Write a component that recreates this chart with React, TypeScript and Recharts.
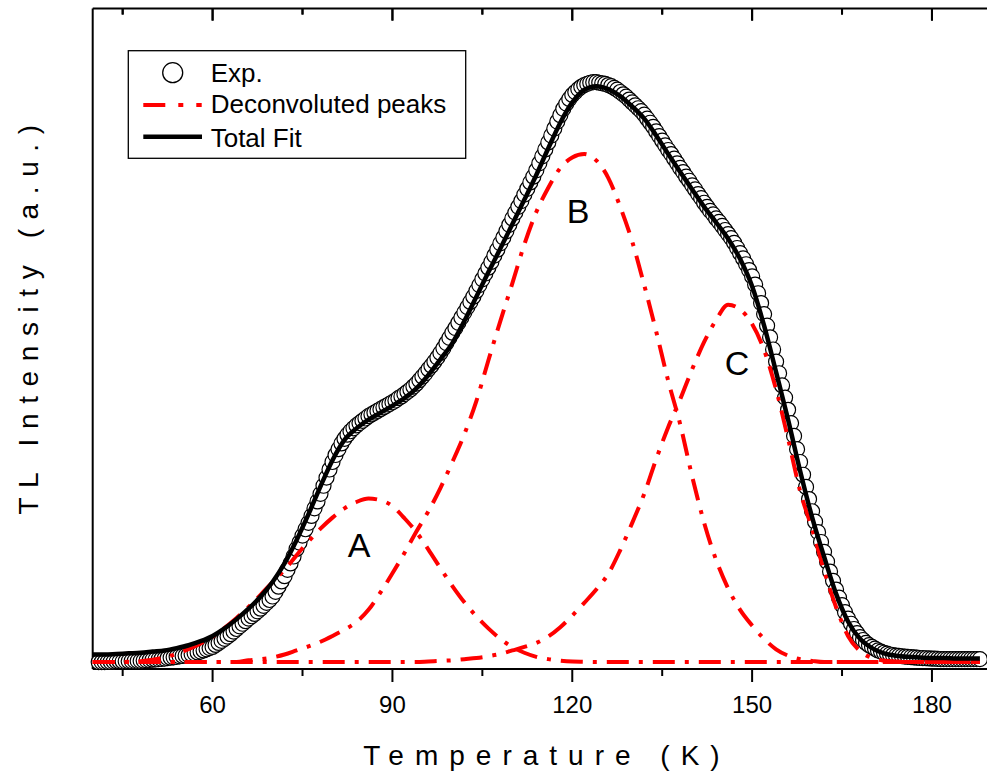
import React from 'react';
import { ComposedChart, Line, XAxis, YAxis, ReferenceLine } from 'recharts';

// Exp. points: first temperature and step in K
const expStart = 41;
const expStep = 0.5;
const expValues = [
  0.0, 0.0, 0.0, 0.02, 0.05, 0.07, 0.1, 0.1, 0.1, 0.12, 0.15, 0.18, 0.2, 0.2, 0.2, 0.25,
  0.3, 0.35, 0.4, 0.45, 0.5, 0.55, 0.6, 0.68, 0.75, 0.82, 0.9, 0.98, 1.05, 1.12, 1.2, 1.35,
  1.5, 1.65, 1.8, 2.0, 2.2, 2.4, 2.6, 2.95, 3.3, 3.65, 4.0, 4.4, 4.8, 5.25, 5.7, 6.15,
  6.6, 7.05, 7.5, 7.9, 8.3, 8.75, 9.2, 9.7, 10.2, 10.7, 11.3, 12.1, 13.0, 13.9, 14.8, 15.9,
  17.0, 18.2, 19.5, 20.6, 21.8, 22.9, 24.0, 25.2, 26.5, 27.7, 29.0, 30.4, 31.8, 33.2, 34.5, 35.7,
  36.7, 37.7, 38.5, 39.2, 39.8, 40.3, 40.8, 41.2, 41.6, 42.0, 42.4, 42.7, 43.0, 43.3, 43.6, 43.9,
  44.2, 44.5, 44.8, 45.1, 45.5, 45.8, 46.2, 46.6, 47.0, 47.5, 48.0, 48.6, 49.2, 49.8, 50.5, 51.1,
  51.8, 52.5, 53.3, 54.1, 55.0, 55.9, 56.8, 57.6, 58.5, 59.4, 60.3, 61.2, 62.1, 63.0, 64.0, 65.0,
  66.0, 67.0, 68.0, 69.0, 70.1, 71.1, 72.2, 73.2, 74.3, 75.4, 76.5, 77.5, 78.5, 79.5, 80.6, 81.6,
  82.7, 83.7, 84.8, 86.0, 87.2, 88.4, 89.6, 90.8, 92.0, 93.2, 94.3, 95.4, 96.3, 97.1, 97.8, 98.3,
  98.8, 99.2, 99.5, 99.7, 99.9, 100.0, 100.0, 99.9, 99.8, 99.7, 99.5, 99.3, 99.0, 98.7, 98.3, 97.9,
  97.5, 97.0, 96.5, 96.0, 95.5, 95.0, 94.4, 93.7, 93.0, 92.3, 91.5, 90.7, 89.9, 89.1, 88.3, 87.6,
  86.8, 86.0, 85.2, 84.5, 83.7, 83.0, 82.2, 81.5, 80.7, 80.0, 79.2, 78.5, 77.8, 77.2, 76.5, 75.9,
  75.2, 74.5, 73.8, 73.1, 72.3, 71.4, 70.5, 69.6, 68.6, 67.6, 66.5, 65.1, 63.6, 61.9, 60.0, 58.0,
  56.0, 53.9, 51.8, 49.8, 47.7, 45.6, 43.5, 41.2, 39.0, 36.7, 34.5, 32.3, 30.2, 28.1, 26.0, 24.2,
  22.4, 20.7, 19.0, 17.3, 15.6, 14.0, 12.5, 11.1, 9.8, 8.6, 7.5, 6.6, 5.7, 5.0, 4.3, 3.8,
  3.3, 2.9, 2.6, 2.3, 2.0, 1.8, 1.6, 1.45, 1.3, 1.2, 1.1, 1.05, 1.0, 0.95, 0.9, 0.85,
  0.8, 0.75, 0.7, 0.68, 0.65, 0.62, 0.6, 0.58, 0.55, 0.52, 0.5, 0.5, 0.5, 0.5, 0.5, 0.5,
  0.5, 0.5, 0.5, 0.5, 0.5, 0.5, 0.5,
];

// fitted curves sampled every 2 K from 40 to 188
const curveTemps = Array.from({ length: 75 }, (_, i) => 40 + 2 * i);

const peakA = [
  0, 0, 0, 0.05, 0.15, 0.4, 0.8, 1.4, 2.2, 3.2, 4.4, 5.9, 7.6, 9.5, 11.6, 13.8,
  15.9, 18.4, 20.8, 23.0, 24.9, 26.5, 27.6, 28.2, 27.9, 26.9, 24.8, 22.4, 19.4, 16.2, 13.1, 10.3,
  7.9, 5.8, 4.0, 2.6, 1.6, 0.9, 0.5, 0.25, 0.1, 0.05, 0, 0, 0, 0, 0, 0,
  0, 0, 0, 0, 0, 0, 0, 0, 0, 0, 0, 0, 0, 0, 0, 0,
  0, 0, 0, 0, 0, 0, 0, 0, 0, 0, 0,
];

const peakB = [
  0, 0, 0, 0, 0, 0, 0, 0, 0, 0, 0, 0, 0, 0.3, 0.5, 0.8,
  1.3, 2.0, 2.7, 3.5, 4.5, 5.6, 6.9, 9.0, 12.0, 15.3, 18.8, 22.5, 26.0, 30.0, 34.5, 39.3,
  45.0, 52.0, 58.8, 65.3, 72.0, 77.6, 81.8, 85.2, 87.0, 87.6, 86.5, 83.5, 78.5, 72.5, 65.0, 57.0,
  48.5, 41.0, 32.0, 24.0, 17.6, 12.7, 9.0, 6.3, 4.0, 2.2, 1.1, 0.5, 0.2, 0, 0, 0,
  0, 0, 0, 0, 0, 0, 0, 0, 0, 0, 0,
];

const peakC = [
  0, 0, 0, 0, 0, 0, 0, 0, 0, 0, 0, 0, 0, 0, 0, 0,
  0, 0, 0, 0, 0, 0, 0, 0, 0, 0, 0, 0, 0.1, 0.2, 0.3, 0.5,
  0.7, 1.0, 1.4, 2.0, 2.6, 3.3, 4.4, 6.0, 8.0, 10.2, 12.5, 15.2, 19.3, 24.0, 29.0, 35.0,
  40.5, 45.3, 50.5, 55.2, 59.0, 61.6, 60.8, 58.3, 53.8, 47.0, 38.5, 29.5, 23.0, 15.8, 9.5, 4.5,
  1.9, 0.7, 0.25, 0.1, 0, 0, 0, 0, 0, 0, 0,
];

const totalFit = [
  1.3, 1.3, 1.4, 1.5, 1.6, 1.8, 2.0, 2.4, 2.9, 3.6, 4.5, 5.8, 7.4, 9.2, 11.3, 13.8,
  17.0, 21.0, 25.5, 30.3, 34.8, 38.3, 40.3, 41.8, 43.0, 44.2, 45.5, 47.2, 49.5, 52.2, 55.0, 58.8,
  63.0, 67.2, 71.3, 75.5, 79.7, 84.0, 88.6, 93.0, 96.5, 98.7, 99.3, 98.8, 97.6, 95.8, 93.7, 90.8,
  87.6, 84.5, 81.5, 78.5, 75.8, 73.0, 69.5, 64.8, 58.0, 50.0, 41.8, 33.0, 25.0, 18.2, 11.8, 7.0,
  4.0, 2.4, 1.5, 1.1, 0.9, 0.8, 0.7, 0.7, 0.6, 0.6, 0.6,
];

const xTicks = [45, 60, 75, 90, 105, 120, 135, 150, 165, 180];

const expData = expValues.map((v, i) => ({ t: expStart + i * expStep, v }));
const curveData = curveTemps.map((t, i) => ({
  t,
  a: peakA[i],
  b: peakB[i],
  c: peakC[i],
  fit: totalFit[i],
}));

const FONT = 'Arial, "Liberation Sans", sans-serif';
const DASH = '22 10 4 10';
const CHART_W = 1000;
const CHART_H = 776;
const X_DOMAIN: [number, number] = [40, 190];
const Y_DOMAIN: [number, number] = [-1.2, 112.7];
const TOP_AXIS_H = 8;
const Y_AXIS_W = 40;
const MARGIN = { top: 0.5, right: 8.1, bottom: 57, left: 52.7 };
const PLOT_LEFT = MARGIN.left + Y_AXIS_W;
const PLOT_RIGHT = CHART_W - MARGIN.right;
const PLOT_TOP = MARGIN.top + TOP_AXIS_H;

const BottomTick = (props: any) => {
  const { x, y, payload } = props;
  const major = payload.value % 30 === 0;
  return (
    <g>
      <line x1={x} x2={x} y1={y} y2={y + (major ? 13 : 7)} stroke="#000" strokeWidth={2} />
      {major && (
        <text x={x} y={y + 44} textAnchor="middle" fontSize={24} fontFamily={FONT} fill="#000">
          {payload.value}
        </text>
      )}
    </g>
  );
};

const ExpDot = (props: any) => {
  const { cx, cy, index } = props;
  if (cx == null || cy == null) return null;
  return <circle key={index} cx={cx} cy={cy} r={7.5} fill="#fff" stroke="#000" strokeWidth={1.2} />;
};

// same axes in both layers so the plot areas coincide
const renderAxes = (visible: boolean) => [
  <XAxis
    key="xb"
    xAxisId="b"
    type="number"
    dataKey="t"
    domain={X_DOMAIN}
    ticks={xTicks}
    interval={0}
    height={50}
    tickSize={0}
    tickMargin={0}
    tickLine={false}
    axisLine={visible ? { stroke: '#000', strokeWidth: 2 } : false}
    tick={visible ? <BottomTick /> : false}
  />,
  <XAxis
    key="xt"
    xAxisId="t"
    orientation="top"
    type="number"
    dataKey="t"
    domain={X_DOMAIN}
    height={TOP_AXIS_H}
    tick={false}
    tickLine={false}
    axisLine={visible ? { stroke: '#000', strokeWidth: 2 } : false}
  />,
  <YAxis
    key="y"
    yAxisId="y"
    type="number"
    domain={Y_DOMAIN}
    width={Y_AXIS_W}
    tick={false}
    tickLine={false}
    axisLine={visible ? { stroke: '#000', strokeWidth: 2 } : false}
  />,
];

// inward ticks hanging from the top frame line
const topTicks = xTicks.map((v) => (
  <ReferenceLine
    key={`tt${v}`}
    xAxisId="b"
    yAxisId="y"
    segment={[
      { x: v, y: Y_DOMAIN[1] },
      { x: v, y: Y_DOMAIN[1] - (v % 30 === 0 ? 2.1 : 1.05) },
    ]}
    stroke="#000"
    strokeWidth={2}
    ifOverflow="visible"
  />
));

// same tick marks on the top layer, placed with the plot's linear x mapping
const topTickX = (v: number) =>
  PLOT_LEFT + ((v - X_DOMAIN[0]) / (X_DOMAIN[1] - X_DOMAIN[0])) * (PLOT_RIGHT - PLOT_LEFT);

const App: React.FC = () => {
  return (
    <div style={{ position: 'absolute', left: 0, top: 0, width: 987, height: 776, overflow: 'hidden', background: '#fff' }}>
      <div style={{ position: 'absolute', left: 0, top: 0 }}>
        <ComposedChart width={CHART_W} height={CHART_H} margin={MARGIN}>
          {renderAxes(true)}
          <Line
            name="Exp."
            xAxisId="b"
            yAxisId="y"
            data={expData}
            dataKey="v"
            stroke="none"
            dot={<ExpDot />}
            activeDot={false}
            isAnimationActive={false}
          />
          <Line xAxisId="t" yAxisId="y" data={expData} dataKey="v" stroke="none" dot={false}
            activeDot={false} legendType="none" isAnimationActive={false} />
        </ComposedChart>
      </div>

      <div style={{ position: 'absolute', left: 0, top: 0 }}>
        <ComposedChart width={CHART_W} height={CHART_H} margin={MARGIN}>
          {renderAxes(false)}
          {topTicks}
          <Line xAxisId="b" yAxisId="y" data={curveData} dataKey="a" type="monotone" stroke="#ff0000"
            strokeWidth={4} strokeDasharray={DASH} dot={false} activeDot={false} isAnimationActive={false} />
          <Line xAxisId="b" yAxisId="y" data={curveData} dataKey="b" type="monotone" stroke="#ff0000"
            strokeWidth={4} strokeDasharray={DASH} dot={false} activeDot={false} isAnimationActive={false} />
          <Line xAxisId="b" yAxisId="y" data={curveData} dataKey="c" type="monotone" stroke="#ff0000"
            strokeWidth={4} strokeDasharray={DASH} dot={false} activeDot={false} isAnimationActive={false} />
          <Line xAxisId="b" yAxisId="y" data={curveData} dataKey="fit" type="monotone" stroke="#000"
            strokeWidth={4.5} dot={false} activeDot={false} isAnimationActive={false} />
          <Line xAxisId="t" yAxisId="y" data={curveData} dataKey="fit" stroke="none" dot={false}
            activeDot={false} legendType="none" isAnimationActive={false} />
        </ComposedChart>
      </div>

      <svg
        width={987}
        height={776}
        style={{ position: 'absolute', left: 0, top: 0, pointerEvents: 'none' }}
        fontFamily={FONT}
      >
        {xTicks.map((v) => (
          <line
            key={`ot${v}`}
            x1={topTickX(v)}
            x2={topTickX(v)}
            y1={PLOT_TOP}
            y2={PLOT_TOP + (v % 30 === 0 ? 12 : 6)}
            stroke="#000"
            strokeWidth={2}
          />
        ))}

        <text x={547} y={765} textAnchor="middle" fontSize={28} letterSpacing={11} fill="#000">
          Temperature (K)
        </text>
        <text transform="translate(38,315) rotate(-90)" textAnchor="middle" fontSize={28} letterSpacing={9.6} fill="#000">
          TL Intensity (a.u.)
        </text>

        <text x={359} y={557} textAnchor="middle" fontSize={34} fill="#000">A</text>
        <text x={578} y={223} textAnchor="middle" fontSize={34} fill="#000">B</text>
        <text x={737} y={375} textAnchor="middle" fontSize={34} fill="#000">C</text>

        <rect x={128.3} y={50.7} width={337.4} height={107.6} fill="#fff" stroke="#000" strokeWidth={1.3} />
        <circle cx={172.7} cy={72.7} r={10} fill="#fff" stroke="#000" strokeWidth={1.3} />
        <text x={210.7} y={81.7} fontSize={26} fill="#000">Exp.</text>
        <line x1={143.3} x2={201.7} y1={105} y2={105} stroke="#ff0000" strokeWidth={4} strokeDasharray="22 13 5 13" />
        <text x={210.7} y={113.3} fontSize={26} fill="#000">Deconvoluted peaks</text>
        <line x1={143.3} x2={202} y1={136.7} y2={136.7} stroke="#000" strokeWidth={4.5} />
        <text x={210.7} y={146.7} fontSize={26} fill="#000">Total Fit</text>
      </svg>
    </div>
  );
};

export default App;
